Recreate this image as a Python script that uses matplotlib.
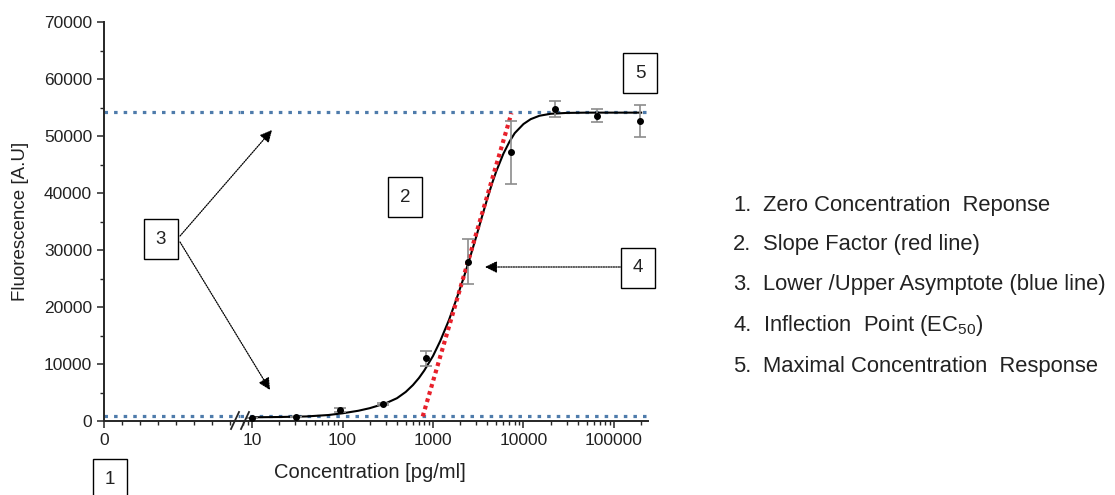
import matplotlib
matplotlib.use('Agg')
import matplotlib.pyplot as plt
from matplotlib.lines import Line2D
from matplotlib.ticker import MultipleLocator, LogLocator, NullFormatter, FixedLocator

plt.rcParams['font.family'] = ['Liberation Sans', 'DejaVu Sans']

# measured points (mean +/- error)
conc = [10, 31, 93, 280, 830, 2430, 7360, 22300, 64700, 195000]
signal = [600, 650, 1930, 2930, 11000, 27950, 47140, 54680, 53560, 52630]
signal_err = [0, 0, 300, 200, 1300, 4000, 5500, 1400, 1100, 2800]

# fitted curve
fit_conc = [10, 20, 40, 70, 100, 150, 200, 300, 400, 500, 600, 700, 800, 1000, 1200,
            1500, 1800, 2200, 2600, 3000, 3500, 4000, 4500, 5000, 6000, 7000, 8000,
            10000, 12000, 15000, 20000, 30000, 50000, 100000, 200000]
fit_signal = [650, 700, 800, 1050, 1350, 1800, 2250, 3100, 4000, 5100, 6300, 7550, 8850,
              11400, 14000, 17700, 21200, 25300, 29000, 32300, 36000, 39100, 41700, 43800,
              46900, 49000, 50500, 52100, 52950, 53550, 53900, 54050, 54100, 54100, 54100]

# slope line and asymptotes
slope_conc = [770, 7360]
slope_signal = [800, 54000]
lower_asym = 800
upper_asym = 54250

legend_items = ['Zero Concentration  Reponse',
                'Slope Factor (red line)',
                'Lower /Upper Asymptote (blue line)',
                r'Inflection  Point (EC$_{\mathregular{50}}$)',
                'Maximal Concentration  Response']

W, H = 1115, 495
blue = '#4e7bab'
red = '#e8202a'
axcol = '#262626'
txtcol = '#222222'


def P(x, y):
    # pixel position (top-left origin) -> figure fraction
    return x / W, 1 - y / H


fig = plt.figure(figsize=(W / 100, H / 100), dpi=100)
x0, xb, x1 = 104, 240, 648
ytop, ybot = 22, 421
bot = 1 - ybot / H
hgt = (ybot - ytop) / H
axl = fig.add_axes([x0 / W, bot, (xb - x0) / W, hgt])
axr = fig.add_axes([xb / W, bot, (x1 - xb) / W, hgt], sharey=axl)

for ax in (axl, axr):
    ax.spines['top'].set_visible(False)
    ax.spines['right'].set_visible(False)
    for s in ('left', 'bottom'):
        ax.spines[s].set_color(axcol)
        ax.spines[s].set_linewidth(1.4)
    ax.tick_params(which='major', direction='out', length=5, width=1.1, color=axcol,
                   labelsize=12.5, labelcolor=txtcol)
    ax.tick_params(which='minor', direction='out', length=3, width=1.0, color=axcol)
    ax.axhline(lower_asym, color=blue, lw=2.3, ls=(0, (1.1, 1.9)), zorder=1)
    ax.axhline(upper_asym, color=blue, lw=2.3, ls=(0, (1.1, 1.9)), zorder=1)

axr.spines['left'].set_visible(False)
axr.tick_params(axis='y', which='both', left=False, labelleft=False)

axl.set_ylim(0, 70000)
axl.yaxis.set_major_locator(MultipleLocator(10000))
axl.yaxis.set_minor_locator(MultipleLocator(5000))
axl.set_xlim(0, (xb - x0) / 18)
axl.xaxis.set_major_locator(FixedLocator([0]))
axl.xaxis.set_minor_locator(MultipleLocator(1))

axr.set_xscale('log')
axr.set_xlim(10 ** (1 - 12 / 90.4), 10 ** (5 + 34 / 90.4))
axr.xaxis.set_major_locator(FixedLocator([10, 100, 1000, 10000, 100000]))
axr.xaxis.set_minor_locator(LogLocator(base=10, subs=range(2, 10), numticks=20))
axr.xaxis.set_minor_formatter(NullFormatter())
axr.set_xticklabels(['10', '100', '1000', '10000', '100000'])

axr.plot(fit_conc, fit_signal, color='black', lw=1.5, zorder=3)
axr.plot(slope_conc, slope_signal, color=red, lw=3.0, ls=(0, (0.9, 0.9)), zorder=4)
axr.errorbar(conc, signal, yerr=signal_err, fmt='o', color='black', ms=4,
             ecolor='#8c8c8c', elinewidth=1.2, capsize=4, capthick=1.2, zorder=5)

axl.set_ylabel('Fluorescence [A.U]', fontsize=13.5, color=txtcol)
axl.yaxis.set_label_coords((29 - x0) / (xb - x0), 0.5)
fig.text(*P(370, 473), 'Concentration [pg/ml]', fontsize=14.5, ha='center', va='center',
         color=txtcol)

# axis break marks
for bx in (235, 245):
    fig.add_artist(Line2D([(bx - 4) / W, (bx + 4) / W], [1 - 429 / H, 1 - 412 / H],
                          color=axcol, lw=1.3))

# numbered boxes
boxes = {'1': (110, 479), '2': (405, 197), '3': (161, 239), '4': (638, 268), '5': (640, 73)}
for label, (bx, by) in boxes.items():
    fig.text(*P(bx, by), label, fontsize=13.5, ha='center', va='center', color=txtcol,
             bbox=dict(boxstyle='square,pad=0.62', fc='white', ec='black', lw=1.0))

# arrows
arrows = [((180, 236), (272, 130)), ((180, 242), (270, 390)), ((622, 267), (485, 267))]
for start, end in arrows:
    fig.add_artist(plt.Annotation('', xy=P(*end), xytext=P(*start),
                                  xycoords='figure fraction', textcoords='figure fraction',
                                  arrowprops=dict(arrowstyle='-|>', ls=(0, (1, 1)), lw=0.9,
                                                  color='black', mutation_scale=18,
                                                  shrinkA=0, shrinkB=0)))

# explanation list
for i, txt in enumerate(legend_items):
    y = [211, 250, 290, 331, 372][i]
    fig.text(*P(733, y), f'{i + 1}.', fontsize=15.8, va='baseline', color=txtcol)
    fig.text(*P(763, y), txt, fontsize=15.8, va='baseline', color=txtcol)

fig.savefig('out.png', dpi=100)
